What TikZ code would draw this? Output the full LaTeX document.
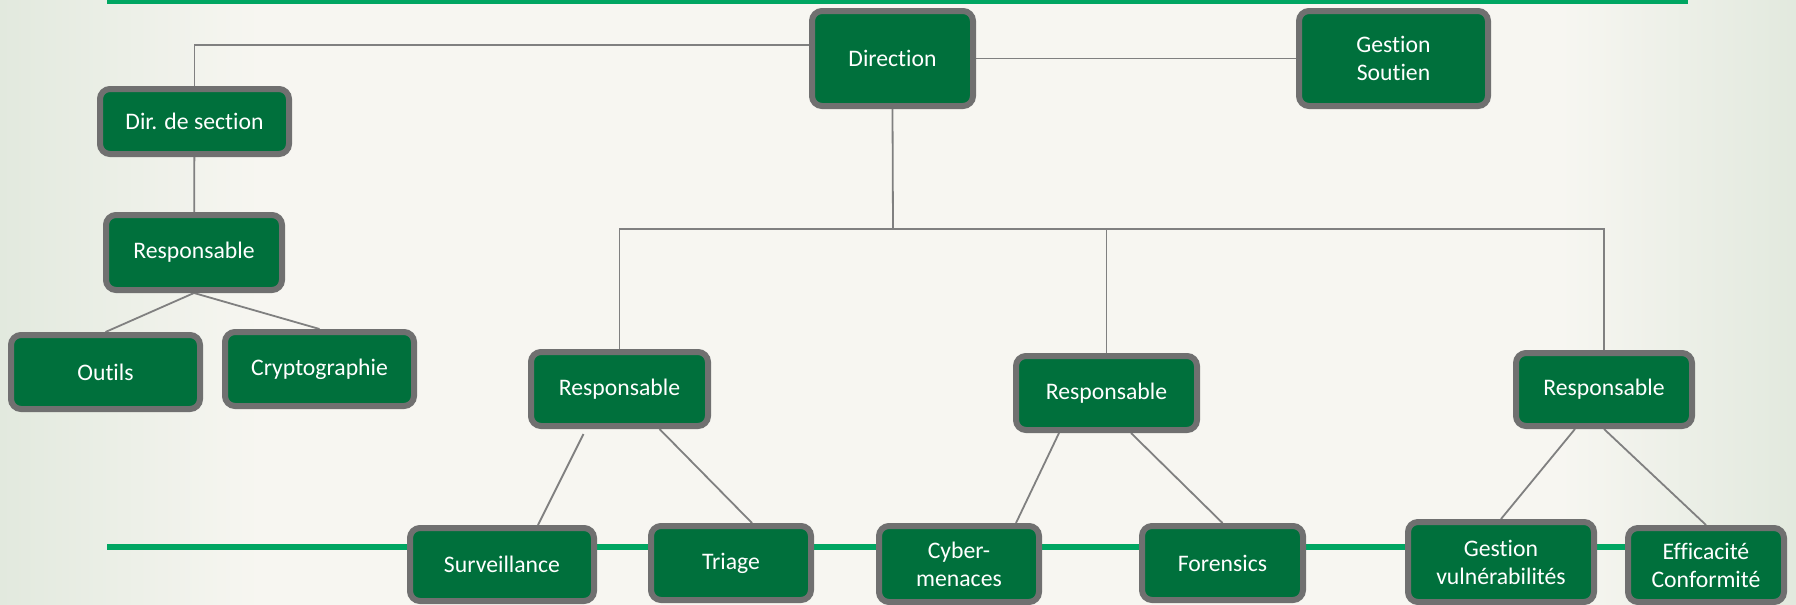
\documentclass[tikz,border=0pt]{standalone}
\usepackage{fontspec}
\setmainfont{Carlito}[RawFeature={-liga;-clig;-calt;-dlig}]
\usepackage{tikz}
\usetikzlibrary{backgrounds}

\definecolor{boxgreen}{RGB}{0,112,60}
\definecolor{boxgray}{RGB}{112,112,112}
\definecolor{linkgray}{RGB}{128,128,128}
\definecolor{bargreen}{RGB}{0,166,98}
\definecolor{bgmid}{RGB}{247,246,241}
\definecolor{bgside}{RGB}{226,233,222}

\tikzset{
  box/.style={draw=boxgray, line width=3pt, fill=boxgreen, rounded corners=5pt,
    text=white, align=center, inner sep=0pt,
    font=\fontsize{11.85}{14}\selectfont},
  link/.style={draw=linkgray, line width=0.9pt},
  greenbar/.style={draw=bargreen, line width=2.6pt}
}

\begin{document}
\begin{tikzpicture}[x=0.5pt, y=-0.5pt]
      \useasboundingbox (0,0) rectangle (1796,605);
      \begin{pgfonlayer}{background}
        \fill [bgmid] (0,0) rectangle (1796,605);
        \shade [left color=bgside, right color=bgmid] (0,0) rectangle (260,605);
        \shade [left color=bgmid, right color=bgside] (1560,0) rectangle (1796,605);
      \end{pgfonlayer}
      \node [box, minimum width=80.5pt, minimum height=47.5pt] (direction) at (892.5,58.5) {Direction};
      \node [box, minimum width=94.5pt, minimum height=47.5pt] (gestion) at (1393.5,58.5) {Gestion\\Soutien};
      \node [box, minimum width=94.5pt, minimum height=32.5pt] (dirsec) at (194.5,121.5) {Dir. de section};
      \node [box, minimum width=88pt, minimum height=37.5pt] (resp0) at (194,252.5) {Responsable};
      \node [box, minimum width=94.5pt, minimum height=37pt] (outils) at (105.5,372) {Outils};
      \node [box, minimum width=94.5pt, minimum height=37pt] (crypto) at (319.5,369) {Cryptographie};
      \node [box, minimum width=88.5pt, minimum height=37pt] (resp1) at (619.5,389) {Responsable};
      \node [box, minimum width=90.5pt, minimum height=37pt] (resp2) at (1106.5,393) {Responsable};
      \node [box, minimum width=88pt, minimum height=36.5pt] (resp3) at (1604,389.5) {Responsable};
      \node [box, minimum width=92pt, minimum height=36.5pt] (surv) at (502,564.5) {Surveillance};
      \node [box, minimum width=80pt, minimum height=37pt] (triage) at (731,563) {Triage};
      \node [box, minimum width=80pt, minimum height=38pt] (cyber) at (959,564) {Cyber-\\menaces};
      \node [box, minimum width=80.5pt, minimum height=37pt] (forensics) at (1222.5,563) {Forensics};
      \node [box, minimum width=93pt, minimum height=40pt] (vuln) at (1501,562) {Gestion\\vuln\'erabilit\'es};
      \node [box, minimum width=78pt, minimum height=37pt] (effic) at (1706,565) {Efficacit\'e\\Conformit\'e};
      \coordinate (bus) at (893,229);
      \begin{pgfonlayer}{background}
        \draw [greenbar] (107,1) -- (1688,1);
        \draw [greenbar] (107,547) -- (1640,547);
        \draw [link] (dirsec.north) |- ([yshift=6.75pt]direction.west);
        \draw [link] (direction) -- (gestion);
        \draw [link] (dirsec) -- (resp0);
        \draw [link] (resp0.south) -- (outils.north);
        \draw [link] (resp0.south) -- (crypto.north);
        \draw [link] (direction.south) -- (bus);
        \draw [link] (resp1.north) |- (bus) -| (resp3.north);
        \draw [link] (resp2.north) -- (resp2.north |- bus);
        \draw [link] ([xshift=-18pt,yshift=-2.5pt]resp1.south) -- ([xshift=18pt]surv.north);
        \draw [link] ([xshift=20pt]resp1.south) -- ([xshift=10.5pt]triage.north);
        \draw [link] ([xshift=-23.75pt]resp2.south) -- ([xshift=28.5pt]cyber.north);
        \draw [link] ([xshift=12.25pt]resp2.south) -- (forensics.north);
        \draw [link] ([xshift=-14.5pt]resp3.south) -- (vuln.north);
        \draw [link] (resp3.south) -- (effic.north);
      \end{pgfonlayer}
    \end{tikzpicture}
\end{document}
